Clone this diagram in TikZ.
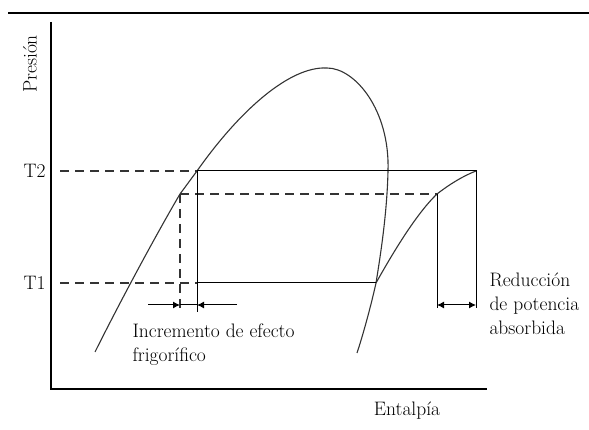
\documentclass[tikz,border=0pt]{standalone}
\usepackage{tikz}
\usetikzlibrary{arrows.meta,positioning,calc}

\begin{document}
\begin{tikzpicture}[x=1pt, y=-1pt, >={Latex[length=7pt,width=7pt]}, line width=1pt,
    curve/.style={black!80, line width=1.1pt},
    guide/.style={dashed, dash pattern=on 9pt off 6pt, line width=1.1pt, black!80},
    label/.style={font=\fontsize{19.5}{24}\selectfont, inner sep=0pt}]
    \useasboundingbox (0,0) rectangle (589,430);

    % Frame and axes
    \coordinate (topL) at (8,13);
    \coordinate (topR) at (589,13);
    \draw[line width=2pt] (topL) -- (topR);
    \coordinate (O) at (51,389);
    \coordinate (yEnd) at (51,22);
    \coordinate (xEnd) at (487,389);
    \draw[line width=1.3pt] (yEnd) -- (O) -- (xEnd);
    \node[label, rotate=90] (pres) at (30,64) {Presión};
    \node[label] (ent) at (407,411) {Entalpía};
    \node[label, anchor=east] (T2) at (46,171) {T2};
    \node[label, anchor=east] (T1) at (46,283) {T1};

    % Cycle points
    \coordinate (A) at (197,171);
    \coordinate (B) at (476,171);
    \coordinate (C) at (376,283);
    \coordinate (D) at (197,283);
    \coordinate (E) at (180,194);
    \coordinate (F) at (437,194);

    % Saturation dome
    \draw[curve] (95,352) .. controls (125,292) and (160,228) .. (E)
        .. controls (186,186) and (191,179) .. (A)
        .. controls (240,110) and (290,66) .. (327,68)
        .. controls (355,68) and (390,110) .. (388,171)
        .. controls (387,215) and (380,258) .. (C)
        .. controls (370,310) and (362,338) .. (357,353);
    % Compression line
    \draw[curve] (C) .. controls (390,258) and (415,215) .. (F)
        .. controls (450,184) and (463,176) .. (B);

    % Pressure levels
    \draw[guide] (T2.east) ++(14,0) coordinate (t2s) -- (A);
    \draw[guide] (T1.east) ++(14,0) coordinate (t1s) -- (D);
    \draw[guide] (E) -- (F);
    \coordinate (Ebot) at (180,310);
    \draw[guide] (E) -- (Ebot);

    % Solid cycle
    \coordinate (Dbot) at (197,312);
    \coordinate (Bbot) at (476,308);
    \coordinate (Fbot) at (437,308);
    \draw (A) -- (B) -- (Bbot);
    \draw (D) -- (C);
    \draw (A) -- (Dbot);
    \draw (F) -- (Fbot);

    % Dimension arrows
    \coordinate (la) at (148,305);
    \coordinate (ea) at (180,305);
    \coordinate (da) at (197,305);
    \coordinate (ra) at (237,305);
    \draw[->] (la) -- (ea);
    \draw (ea) -- (da);
    \draw[->] (ra) -- (da);
    \coordinate (fa) at (437,305);
    \coordinate (ba) at (476,305);
    \draw[<->] (fa) -- (ba);

    \node[label, anchor=north west, align=left] (incr) at (132,323) {Incremento de efecto\\frigorífico};
    \node[label, anchor=north west, align=left] (red) at (489,272) {Reducción\\de potencia\\absorbida};
\end{tikzpicture}
\end{document}
